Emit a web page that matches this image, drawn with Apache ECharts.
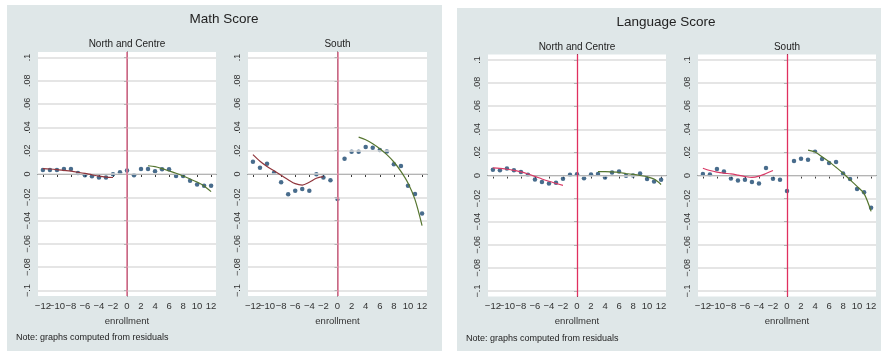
<!DOCTYPE html>
<html><head><meta charset="utf-8">
<script src="https://cdn.jsdelivr.net/npm/echarts@6/dist/echarts.min.js"></script>
<style>html,body{margin:0;padding:0;background:#fff}#c{width:886px;height:351px}</style>
</head><body><div id="c"></div><script>
// ---- data ----
const xValues = [-12,-11,-10,-9,-8,-7,-6,-5,-4,-3,-2,-1,0,1,2,3,4,5,6,7,8,9,10,11,12];
const leftFitX = [-12,-11,-10,-9,-8,-7,-6,-5,-4,-3,-2];
const rightFitX = [3,4,5,6,7,8,9,10,11,12];
const xTickValues = [-12,-10,-8,-6,-4,-2,0,2,4,6,8,10,12];
const xTickLabels = ['\u221212','\u221210','\u22128','\u22126','\u22124','\u22122','0','2','4','6','8','10','12'];
const yTickValues = [-0.1,-0.08,-0.06,-0.04,-0.02,0,0.02,0.04,0.06,0.08,0.1];
const yTickLabels = ['\u2212.1','\u2212.08','\u2212.06','\u2212.04','\u2212.02','0','.02','.04','.06','.08','.1'];

const mathNC = [.0034,.0034,.0034,.0043,.0043,.0009,-.0011,-.002,-.0029,-.0031,-.0003,.0014,.0029,-.0011,.0043,.0043,.0023,.004,.004,-.0017,-.0017,-.0057,-.0091,-.01,-.01];
const mathS = [.0106,.0054,.0089,.0011,-.0071,-.0174,-.0143,-.0129,-.0143,-.0003,-.0031,-.0054,-.0214,.0131,.0191,.0191,.0231,.0226,.0206,.0194,.0083,.0069,-.01,-.0171,-.034];
const langNC = [.0049,.0046,.006,.0046,.0031,.0006,-.0034,-.0057,-.0069,-.0063,-.0029,.0006,.0011,-.0023,.0009,.0014,-.0017,.0026,.0034,-.0003,0,.0017,-.0031,-.0051,-.0037];
const langS = [.0014,.0009,.0057,.0034,-.0026,-.0043,-.0037,-.0057,-.0069,.0066,-.0029,-.0037,-.0134,.0126,.0146,.0137,.0206,.0143,.0109,.0117,.0017,-.0031,-.0117,-.0146,-.028];

const mathNCLeftFit = [.0046,.0043,.0038,.0031,.0024,.0015,.0005,-.0007,-.0018,-.0026,-.003];
const mathNCRightFit = [.0071,.0063,.0046,.0026,.0006,-.0017,-.0043,-.0069,-.0103,-.0151];
const mathSLeftFit = [.0166,.011,.0065,.0027,-.0011,-.0049,-.0083,-.0095,-.0071,-.0037,-.0023];
const mathSRightFit = [.0317,.0294,.026,.0217,.0166,.0103,.0023,-.0077,-.022,-.0443];
const langNCLeftFit = [.0066,.0062,.0054,.0044,.0031,.0013,-.0008,-.003,-.005,-.0068,-.0086];
const langNCRightFit = [.0034,.0034,.0031,.0026,.0017,.0009,0,-.0011,-.0031,-.0078];
const langSLeftFit = [.0063,.0043,.0029,.002,.0014,.0003,-.0009,-.0017,-.0006,.0017,.0043];
const langSRightFit = [.022,.0203,.0163,.012,.0071,.002,-.0037,-.0094,-.0157,-.0311];

const cutoff = 0;

// ---- layout / style ----
const FONT = 'Liberation Sans, Arial, sans-serif';
const AX = '#3c3c3c';
const DOT = '#1a476f';
const GRIDC = '#dcdcdc';
const PANEL = '#dfe7e8';
const subs = [
  {wl:38, wr:216, wt:52, wb:296, yt:57.5, yb:290.5, dots:mathNC, lf:mathNCLeftFit, rf:mathNCRightFit, lc:'#90353b', rc:'#55752f', vc:'#e27a98', vw:1.6},
  {wl:248, wr:427, wt:52, wb:296, yt:57.5, yb:290.5, dots:mathS, lf:mathSLeftFit, rf:mathSRightFit, lc:'#90353b', rc:'#55752f', vc:'#e27a98', vw:1.6},
  {wl:488, wr:666, wt:54.5, wb:296.5, yt:60, yb:291, dots:langNC, lf:langNCLeftFit, rf:langNCRightFit, lc:'#d83a66', rc:'#55752f', vc:'#e0305f', vw:1.3},
  {wl:698, wr:876, wt:54.5, wb:296.5, yt:60, yb:291, dots:langS, lf:langSLeftFit, rf:langSRightFit, lc:'#d83a66', rc:'#55752f', vc:'#e0305f', vw:1.3}
];
const panels = [{l:7, t:5, w:435, h:346}, {l:457, t:8, w:424, h:343}];
const XMIN = -12.7, XMAX = 12.7;
const evenTicks = xTickValues.filter((v, k) => k % 2 === 0);
const oddTicks = xTickValues.filter((v, k) => k % 2 === 1);
const xFmt = v => xTickLabels[xTickValues.indexOf(v)];

const grid = [], xAxis = [], yAxis = [], series = [];
const labelStyle = {fontFamily:FONT, fontSize:9.5, color:'#333'};
subs.forEach((s, i) => {
  const bg = 2*i, dg = 2*i+1;
  grid.push({left:s.wl, top:s.wt, width:s.wr-s.wl, height:s.wb-s.wt, show:true, backgroundColor:'#ffffff', borderWidth:0, z:-5, containLabel:false, outerBoundsMode:'none'});
  grid.push({left:s.wl, top:s.yt, width:s.wr-s.wl, height:s.yb-s.yt, show:false, z:2, containLabel:false, outerBoundsMode:'none'});
  yAxis.push({gridIndex:bg, type:'value', min:0, max:1, position:'left', z:3,
    axisLine:{show:true, lineStyle:{color:AX, width:1}}, axisTick:{show:false}, axisLabel:{show:false}, splitLine:{show:false}});
  yAxis.push({gridIndex:dg, type:'value', min:-0.1, max:0.1, interval:0.02, position:'left', z:2,
    axisLine:{show:false},
    axisTick:{show:true, length:3, lineStyle:{color:AX}},
    axisLabel:{show:true, rotate:90, margin:6, fontFamily:FONT, fontSize:9, color:'#333',
      showMinLabel:true, showMaxLabel:true,
      formatter: v => yTickLabels[Math.round((v + 0.1) / 0.02)]},
    splitLine:{show:false}});
});
subs.forEach((s, i) => {
  const bg = 2*i, dg = 2*i+1;
  xAxis.push({gridIndex:bg, type:'value', min:XMIN, max:XMAX, show:false});
  xAxis.push({gridIndex:dg, type:'value', min:XMIN, max:XMAX, position:'bottom', offset:s.wb-s.yb, z:3,
    name:'enrollment', nameLocation:'middle', nameGap:14,
    nameTextStyle:{fontFamily:FONT, fontSize:9.5, color:'#333'},
    axisLine:{show:true, lineStyle:{color:AX, width:1}},
    axisTick:{show:true, customValues:xTickValues, length:3, lineStyle:{color:AX}},
    axisLabel:Object.assign({show:true, customValues:evenTicks, margin:5, showMinLabel:true, showMaxLabel:true, hideOverlap:false, formatter:xFmt}, labelStyle),
    splitLine:{show:false}});
  xAxis.push({gridIndex:dg, type:'value', min:XMIN, max:XMAX, position:'bottom', offset:s.wb-s.yb, z:3,
    axisLine:{show:false}, axisTick:{show:false},
    axisLabel:Object.assign({show:true, customValues:oddTicks, margin:5, showMinLabel:true, showMaxLabel:true, hideOverlap:false, formatter:xFmt}, labelStyle),
    splitLine:{show:false}});
  const xb = 3*i, xd = 3*i+1;
  // horizontal reference lines at the y ticks
  series.push({type:'line', xAxisIndex:xd, yAxisIndex:dg, data:[], silent:true, z:2, showSymbol:false,
    markLine:{silent:true, symbol:['none','none'], precision:4, label:{show:false},
      lineStyle:{color:GRIDC, width:1.5, type:'solid', opacity:1},
      emphasis:{disabled:true},
      data: yTickValues.map(v => ({yAxis:v}))}});
  series.push({type:'scatter', xAxisIndex:xb, yAxisIndex:bg, data:[], silent:true, z:3,
    markLine:{silent:true, symbol:'none', label:{show:false}, lineStyle:{color:s.vc, width:s.vw, type:'solid'}, data:[{xAxis:cutoff}]}});
  series.push({type:'scatter', xAxisIndex:xd, yAxisIndex:dg, symbolSize:4.5, itemStyle:{color:DOT},
    data: xValues.map((x, k) => [x, s.dots[k]]), z:4});
  series.push({type:'line', xAxisIndex:xd, yAxisIndex:dg, showSymbol:false, smooth:0.3,
    lineStyle:{color:s.lc, width:1.2}, data: leftFitX.map((x, k) => [x, s.lf[k]]), z:5});
  series.push({type:'line', xAxisIndex:xd, yAxisIndex:dg, showSymbol:false, smooth:0.3,
    lineStyle:{color:s.rc, width:1.2}, data: rightFitX.map((x, k) => [x, s.rf[k]]), z:5});
});
panels.forEach(p => {
  const gi = grid.length;
  grid.push({left:p.l, top:p.t, width:p.w, height:p.h, show:true, backgroundColor:PANEL, borderWidth:0, z:-10, containLabel:false, outerBoundsMode:'none'});
  xAxis.push({gridIndex:gi, type:'value', min:0, max:1, show:false});
  yAxis.push({gridIndex:gi, type:'value', min:0, max:1, show:false});
});

const txt = (x, y, t, size, align) => ({type:'text', x, y, z:10,
  style:{text:t, fill:'#222', font: size + 'px ' + FONT, textAlign:align || 'center', textVerticalAlign:'middle'}});
const graphic = [
  txt(224, 19, 'Math Score', 13.5),
  txt(127, 44, 'North and Centre', 10),
  txt(337.5, 44, 'South', 10),
  txt(16, 338, 'Note: graphs computed from residuals', 9, 'left'),
  txt(666, 22, 'Language Score', 13.5),
  txt(577, 47, 'North and Centre', 10),
  txt(787, 47, 'South', 10),
  txt(466, 339, 'Note: graphs computed from residuals', 9, 'left')
];

const chart = echarts.init(document.getElementById('c'), null, {renderer:'canvas'});
chart.setOption({animation:false, backgroundColor:'#ffffff', grid, xAxis, yAxis, series, graphic});
</script></body></html>
